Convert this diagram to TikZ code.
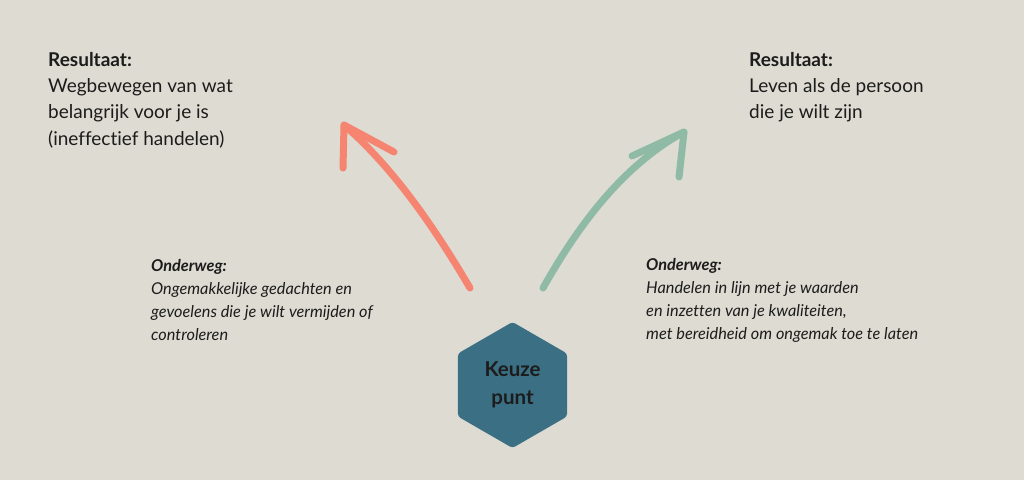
\documentclass[tikz,border=0pt]{standalone}
\usepackage{fontspec}
\setmainfont{Lato}[RawFeature={-liga}]
\usetikzlibrary{shapes.geometric}
\definecolor{bg}{RGB}{221,219,210}
\definecolor{redarrow}{RGB}{245,132,112}
\definecolor{greenarrow}{RGB}{143,187,166}
\definecolor{hexfill}{RGB}{59,111,132}
\definecolor{txt}{RGB}{28,28,28}
\tikzset{
  brush/.style={line width=7pt, line cap=round, line join=round},
  resblock/.style={anchor=north west, inner sep=0pt, align=left, text=txt,
    font=\fontsize{19}{26.3}\selectfont},
  wayblock/.style={anchor=north west, inner sep=0pt, align=left, text=txt,
    font=\fontsize{16.3}{23}\selectfont\itshape},
  hexnode/.style={regular polygon, regular polygon sides=6, shape border rotate=30,
    minimum size=126pt, inner sep=0pt, fill=hexfill, rounded corners=3pt,
    align=center, text=txt, font=\fontsize{20.5}{28}\selectfont\bfseries}
}
\begin{document}
\begin{tikzpicture}[x=1pt,y=-1pt]
\fill[bg] (0,0) rectangle (1024,480);
\useasboundingbox (0,0) rectangle (1024,480);

% texts
\node[resblock] (resL) at (48,47.6) {\strut\textbf{Resultaat:}\\Wegbewegen van wat\\belangrijk voor je is\\(ineffectief handelen)};
\node[resblock] (resR) at (749,47.6) {\strut\textbf{Resultaat:}\\Leven als de persoon\\die je wilt zijn};
\node[wayblock] (wayL) at (151,254.9) {\strut\textbf{Onderweg:}\\Ongemakkelijke gedachten en\\gevoelens die je wilt vermijden of\\controleren};
\node[wayblock] (wayR) at (646,253.9) {\strut\textbf{Onderweg:}\\Handelen in lijn met je waarden\\en inzetten van je kwaliteiten,\\met bereidheid om ongemak toe te laten};

% hexagon
\node[hexnode] (keuze) at (512.5,385) {Keuze\\punt};

% arrow points
\coordinate (rs) at (470,288);
\coordinate (rt) at (344,125);
\coordinate (ra) at (394,152);
\coordinate (rb) at (343,168);
\coordinate (gs) at (543,288);
\coordinate (gt) at (684,132);
\coordinate (ga) at (632,156);
\coordinate (gb) at (679,177);

\draw[brush, redarrow] (rs) .. controls (430,220) and (390,165) .. (rt);
\draw[brush, redarrow] (rb) -- (rt) -- (ra);
\draw[brush, greenarrow] (gs) .. controls (578,226) and (622,166) .. (gt);
\draw[brush, greenarrow] (ga) -- (gt) -- (gb);
\end{tikzpicture}
\end{document}
